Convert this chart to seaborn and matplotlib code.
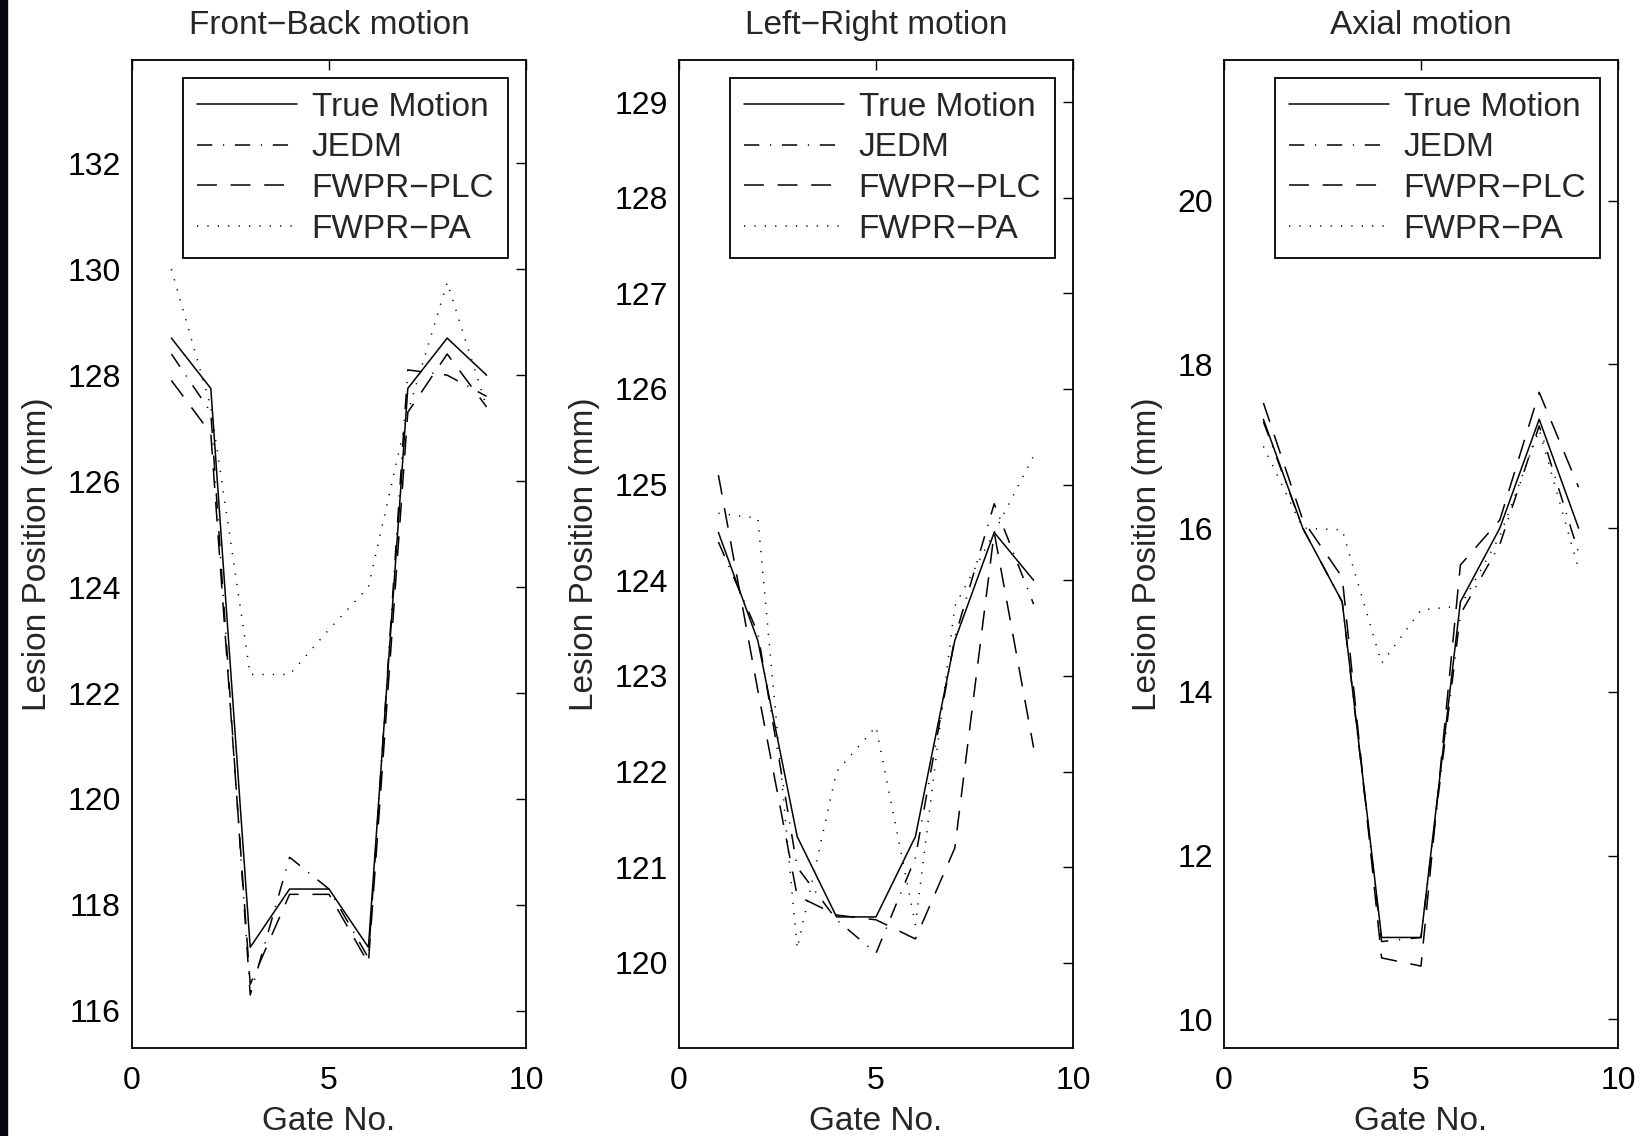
import pandas as pd
import matplotlib.pyplot as plt
import seaborn as sns
from matplotlib.patches import Rectangle

# Lesion position per respiratory gate
gates = [1, 2, 3, 4, 5, 6, 7, 8, 9]
methods = ['True Motion', 'JEDM', 'FWPR\u2212PLC', 'FWPR\u2212PA']

# Front-Back motion
fb_true = [128.7, 127.75, 117.2, 118.3, 118.3, 117.2, 127.75, 128.7, 128.0]
fb_jedm = [128.4, 127.3, 116.3, 118.9, 118.3, 117.0, 128.1, 128.0, 127.6]
fb_plc = [127.9, 126.9, 116.5, 118.2, 118.2, 116.9, 127.3, 128.4, 127.4]
fb_pa = [130.0, 127.4, 122.35, 122.35, 123.2, 124.0, 127.3, 129.75, 127.4]

# Left-Right motion
lr_true = [124.5, 123.37, 121.32, 120.48, 120.48, 121.32, 123.37, 124.5, 124.0]
lr_jedm = [124.4, 123.45, 121.0, 120.45, 120.1, 121.1, 123.4, 124.8, 123.75]
lr_plc = [125.1, 122.85, 120.7, 120.5, 120.45, 120.25, 121.2, 124.5, 122.25]
lr_pa = [124.7, 124.65, 120.15, 122.0, 122.47, 120.4, 123.73, 124.5, 125.3]

# Axial motion
ax_true = [17.33, 16.0, 15.1, 11.0, 11.0, 15.1, 16.0, 17.33, 16.0]
ax_jedm = [17.3, 16.0, 15.1, 10.95, 11.0, 14.95, 15.8, 17.25, 15.7]
ax_plc = [17.53, 16.1, 15.4, 10.75, 10.65, 15.55, 16.1, 17.66, 16.5]
ax_pa = [17.0, 16.0, 15.98, 14.35, 15.0, 15.05, 15.9, 17.2, 15.5]

panel_titles = ['Front\u2212Back motion', 'Left\u2212Right motion', 'Axial motion']
panel_series = [
    [fb_true, fb_jedm, fb_plc, fb_pa],
    [lr_true, lr_jedm, lr_plc, lr_pa],
    [ax_true, ax_jedm, ax_plc, ax_pa],
]
panel_ylims = [(115.3, 133.95), (119.11, 129.44), (9.65, 21.72)]
panel_yticks = [list(range(116, 133, 2)), list(range(120, 130)), list(range(10, 21, 2))]

# MATLAB-like line styles: solid, dash-dot, dashed, dotted
line_styles = ['-', (0, (10, 7, 0.8, 7)), (0, (13, 9)), (0, (0.8, 6))]

sns.set_theme(style='white')
plt.rcParams['font.family'] = ['Liberation Sans', 'DejaVu Sans']
plt.rcParams['axes.edgecolor'] = 'black'

fig = plt.figure(figsize=(16.46, 11.36), dpi=100)
fig.patches.append(Rectangle((0, 0), 7 / 1646, 1, transform=fig.transFigure,
                             color='#05070f', zorder=10))

lefts = [132 / 1646, 679 / 1646, 1224 / 1646]
for i, left in enumerate(lefts):
    ax = fig.add_axes([left, 0.0775, 394 / 1646, 0.8697])

    df = pd.DataFrame({'gate': gates * 4,
                       'pos': sum(panel_series[i], []),
                       'method': [m for m in methods for _ in gates]})
    for method, ls in zip(methods, line_styles):
        sub = df[df['method'] == method]
        sns.lineplot(data=sub, x='gate', y='pos', ax=ax, color='black',
                     linestyle=ls, linewidth=1.1, label=method)

    ax.set_xlim(0, 10)
    ax.set_xticks([0, 5, 10])
    ax.set_ylim(*panel_ylims[i])
    ax.set_yticks(panel_yticks[i])
    ax.tick_params(direction='in', length=7, width=1, top=True, right=True,
                   labelsize=23, colors='black')
    ax.tick_params(axis='y', pad=8)
    ax.tick_params(axis='x', pad=13)
    for sp in ax.spines.values():
        sp.set_linewidth(1.3)
        sp.set_color('black')

    ax.set_title(panel_titles[i], fontsize=24, pad=19)
    ax.set_xlabel('Gate No.', fontsize=24, labelpad=7)
    ax.set_ylabel('Lesion Position (mm)', fontsize=24, labelpad=10)

    leg = ax.legend(loc='upper right', fontsize=24, frameon=True, fancybox=False,
                    framealpha=1, edgecolor='black', handlelength=3.0,
                    handletextpad=0.45, labelspacing=0.29, borderpad=0.4,
                    borderaxespad=0.55)
    leg.get_frame().set_linewidth(1.3)

plt.savefig('out.png', dpi=100)
